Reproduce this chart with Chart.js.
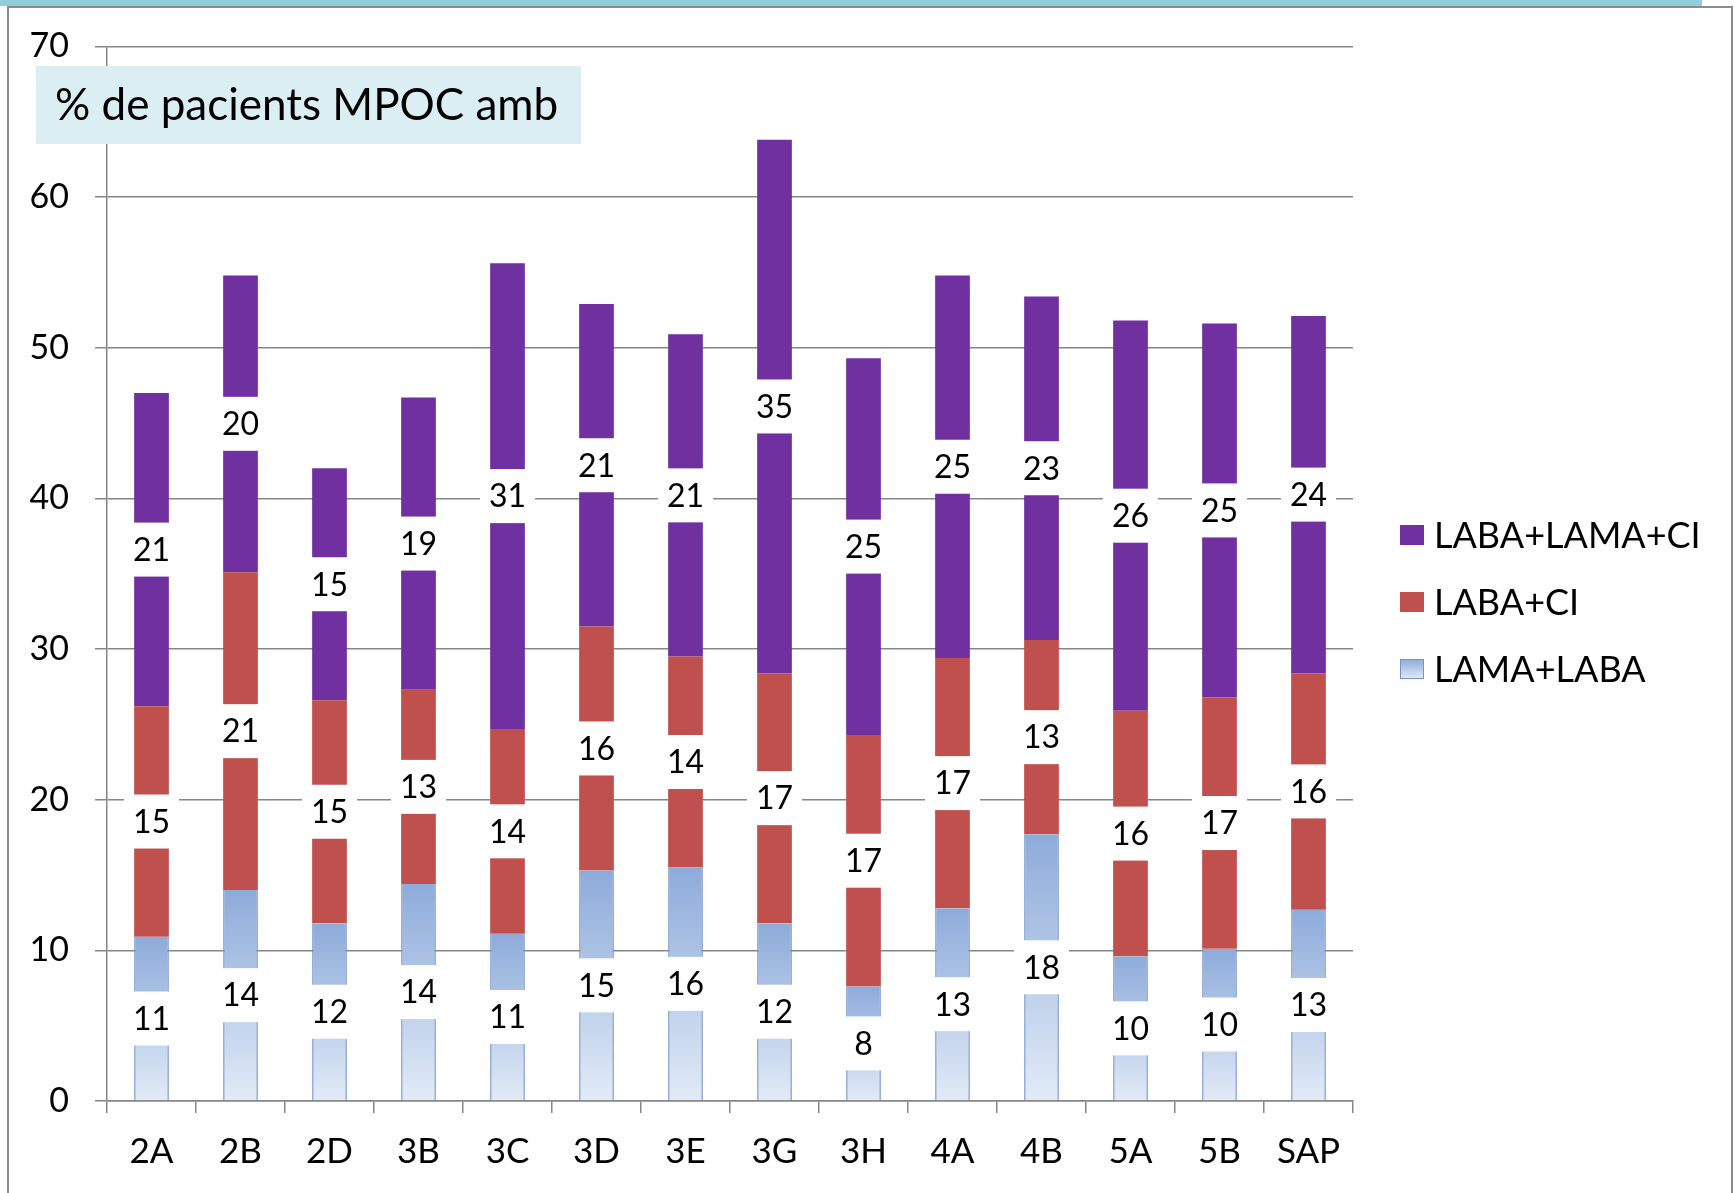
<!DOCTYPE html>
<html>
<head>
<meta charset="utf-8">
<script src="https://cdn.jsdelivr.net/npm/chart.js@4.4.0/dist/chart.umd.min.js"></script>
<style>
    html, body { margin: 0; padding: 0; background: #ffffff; }
    #wrap { position: relative; width: 1735px; height: 1193px; }
</style>
</head>
<body>
<div id="wrap"><canvas id="chart" width="1735" height="1193"></canvas></div>
<script>
const categories = ['2A', '2B', '2D', '3B', '3C', '3D', '3E', '3G', '3H', '4A', '4B', '5A', '5B', 'SAP'];
const lamaLaba = [10.9, 14.0, 11.8, 14.4, 11.1, 15.3, 15.5, 11.8, 7.6, 12.8, 17.7, 9.6, 10.1, 12.7];
const labaCi = [15.3, 21.1, 14.8, 12.9, 13.6, 16.2, 14.0, 16.6, 16.7, 16.6, 12.9, 16.3, 16.7, 15.7];
const labaLamaCi = [20.8, 19.7, 15.4, 19.4, 30.9, 21.4, 21.4, 35.4, 25.0, 25.4, 22.8, 25.9, 24.8, 23.7];
const yTicks = [0, 10, 20, 30, 40, 50, 60, 70];

const titleText = '% de pacients MPOC amb';
const fontName = 'Lato, "Open Sans", sans-serif';
const gridColor = '#868686';

function blueGradient(ctx, top, bottom) {
    const g = ctx.createLinearGradient(0, top, 0, bottom);
    g.addColorStop(0, '#8DABDA');
    g.addColorStop(1, '#E2EBF7');
    return g;
}

function blueFill(context) {
    const chart = context.chart;
    if (!chart.chartArea) return '#B9CDE5';
    const y = chart.scales.y;
    const top = y.getPixelForValue(context.raw);
    const bottom = y.getPixelForValue(0);
    return blueGradient(chart.ctx, top, bottom);
}

// white boxes with the rounded value in the middle of each segment
const segmentLabels = {
    id: 'segmentLabels',
    afterDatasetsDraw(chart) {
        const ctx = chart.ctx;
        ctx.save();
        ctx.font = '32px ' + fontName;
        ctx.textAlign = 'center';
        ctx.textBaseline = 'middle';
        chart.data.datasets.forEach((ds, i) => {
            const meta = chart.getDatasetMeta(i);
            meta.data.forEach((bar, j) => {
                const text = String(Math.round(ds.data[j]));
                const cx = bar.x;
                const cy = (bar.y + bar.base) / 2;
                const w = ctx.measureText(text).width + 18;
                const h = 54;
                ctx.fillStyle = '#ffffff';
                ctx.fillRect(cx - w / 2, cy - h / 2, w, h);
                ctx.fillStyle = '#000000';
                ctx.fillText(text, cx, cy + 1);
            });
        });
        ctx.restore();
    }
};

// frame, title box and legend
const decorations = {
    id: 'decorations',
    beforeDraw(chart) {
        const ctx = chart.ctx;
        ctx.save();
        ctx.fillStyle = '#ffffff';
        ctx.fillRect(0, 0, chart.width, chart.height);
        ctx.fillStyle = '#92CDDC';
        ctx.fillRect(0, 0, 1702, 6);
        ctx.strokeStyle = '#8C8C8C';
        ctx.lineWidth = 2;
        ctx.beginPath();
        ctx.moveTo(8, 1193);
        ctx.lineTo(8, 7);
        ctx.lineTo(1732, 7);
        ctx.lineTo(1732, 1193);
        ctx.stroke();
        ctx.restore();
    },
    afterDraw(chart) {
        const ctx = chart.ctx;
        ctx.save();
        // title box
        ctx.fillStyle = '#DAEEF3';
        ctx.fillRect(36, 66, 545, 78);
        ctx.fillStyle = '#000000';
        ctx.font = '44px ' + fontName;
        ctx.textAlign = 'left';
        ctx.textBaseline = 'middle';
        ctx.fillText(titleText, 55, 106);

        // legend
        const items = [
            { label: 'LABA+LAMA+CI', color: '#7030A0' },
            { label: 'LABA+CI', color: '#C0504D' },
            { label: 'LAMA+LABA', color: null }
        ];
        ctx.font = '36px ' + fontName;
        items.forEach((item, i) => {
            const cy = 535 + i * 67;
            if (item.color) {
                ctx.fillStyle = item.color;
            } else {
                ctx.fillStyle = blueGradient(ctx, cy - 10, cy + 10);
            }
            ctx.fillRect(1400, cy - 10, 24, 20);
            if (!item.color) {
                ctx.strokeStyle = '#7393C9';
                ctx.lineWidth = 1;
                ctx.strokeRect(1400.5, cy - 9.5, 23, 19);
            }
            ctx.fillStyle = '#000000';
            ctx.fillText(item.label, 1434, cy + 1);
        });
        ctx.restore();
    }
};

const chartCtx = document.getElementById('chart').getContext('2d');
new Chart(chartCtx, {
    type: 'bar',
    data: {
        labels: categories,
        datasets: [
            {
                label: 'LAMA+LABA',
                data: lamaLaba,
                backgroundColor: blueFill,
                borderColor: '#7393C9',
                borderWidth: { left: 1.5, right: 1.5, top: 0, bottom: 0 },
                borderSkipped: false
            },
            {
                label: 'LABA+CI',
                data: labaCi,
                backgroundColor: '#C0504D'
            },
            {
                label: 'LABA+LAMA+CI',
                data: labaLamaCi,
                backgroundColor: '#7030A0'
            }
        ]
    },
    options: {
        responsive: false,
        animation: false,
        devicePixelRatio: 1,
        layout: { padding: { left: 0, right: 382, top: 44, bottom: 0 } },
        datasets: { bar: { categoryPercentage: 1, barPercentage: 0.39 } },
        plugins: {
            legend: { display: false },
            tooltip: { enabled: false }
        },
        scales: {
            x: {
                stacked: true,
                afterFit: scale => { scale.height = 92; },
                grid: {
                    offset: true,
                    drawOnChartArea: false,
                    drawTicks: true,
                    tickLength: 12,
                    color: gridColor,
                    lineWidth: 1.5
                },
                border: { color: gridColor, width: 1.5 },
                ticks: {
                    color: '#000000',
                    font: { family: fontName, size: 35 },
                    padding: 18,
                    maxRotation: 0
                }
            },
            y: {
                stacked: true,
                min: 0,
                max: 70,
                afterFit: scale => { scale.width = 107; },
                afterBuildTicks: scale => { scale.ticks = yTicks.map(v => ({ value: v })); },
                grid: {
                    color: gridColor,
                    lineWidth: 1.5,
                    tickLength: 12
                },
                border: { color: gridColor, width: 1.5 },
                ticks: {
                    color: '#000000',
                    font: { family: fontName, size: 34 },
                    padding: 26
                }
            }
        }
    },
    plugins: [decorations, segmentLabels]
});
</script>
</body>
</html>
